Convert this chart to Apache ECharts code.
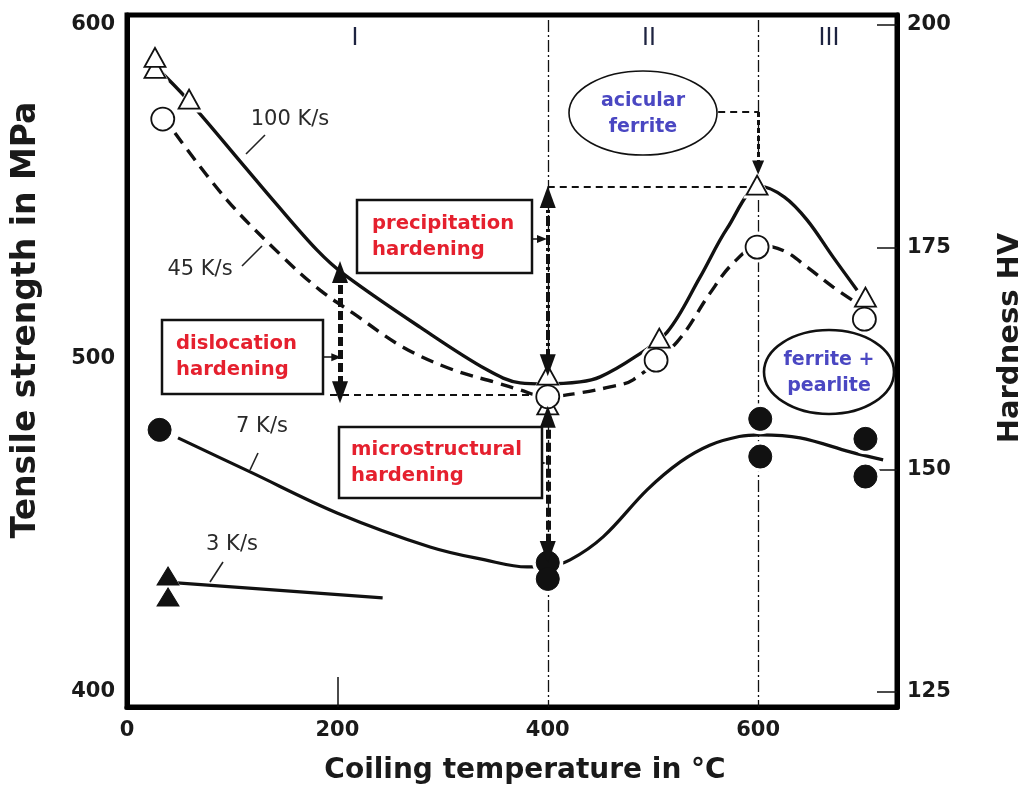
<!DOCTYPE html>
<html>
<head>
<meta charset="utf-8">
<script src="https://cdn.jsdelivr.net/npm/echarts@6/dist/echarts.min.js"></script>
<style>
  html, body { margin: 0; padding: 0; background: #fff; }
  #chart { width: 1024px; height: 796px; }
</style>
</head>
<body>
<div id="chart"></div>
<script>
// ---- measured points: [coiling temperature °C, tensile strength MPa] ----
const tri100 = [[26.6, 587.0], [26.6, 590.3], [59, 577.8], [400, 486.1], [400, 495.0], [506, 506.1], [599, 552.0], [702, 518.4]];
const circ45 = [[34, 571.8], [400, 488.5], [503, 499.5], [599, 533.4], [701, 511.8]];
const dot7 = [[31, 478.6], [400, 438.8], [400, 433.9], [602, 481.9], [602, 470.6], [702, 475.9], [702, 464.6]];
const tri3 = [[39, 434.8], [39, 428.5]];

// ---- hand-fitted trend curves ----
const fit100 = [[26.6, 587.7], [58, 577.5], [112.2, 557.4], [138.8, 547.5], [180.7, 532.5], [207.3, 525.0],
  [278.6, 509.4], [342.3, 496.6], [373.7, 492.7], [397.5, 492.4], [430.7, 493.0], [449.8, 494.5],
  [481.1, 500.1], [513.5, 507.9], [544.8, 524.4], [570.5, 539.0], [601.9, 551.6],
  [625.0, 548.4], [646.6, 541.5], [671.3, 530.4], [694.1, 520.5]];
const fit45 = [[45.6, 567.6], [95.1, 547.5], [148.3, 530.4], [183.5, 520.5], [214.9, 513.6], [262.4, 503.4],
  [310.0, 496.6], [351.8, 492.7], [373.7, 490.6], [397.5, 488.5], [430.7, 489.7], [459.3, 491.5],
  [481.1, 493.6], [523.0, 505.0], [554.3, 519.6], [576.2, 528.6], [601.9, 534.0],
  [625.0, 532.2], [646.6, 527.4], [671.3, 521.4], [689.4, 517.5]];
const fit7 = [[48.5, 476.2], [117.0, 466.0], [199.7, 453.7], [288.1, 443.5], [340.4, 439.6], [380.3, 437.5],
  [400.3, 437.7], [421.2, 439.6], [452.6, 446.5], [494.4, 460.6], [526.0, 469.0], [554.0, 474.0],
  [582.0, 476.6], [602.0, 477.1], [639.9, 476.2], [687.4, 472.0], [718.8, 469.6]];
const fit3 = [[47.5, 432.7], [243.0, 428.2]];

// ---- axes ----
const xTicks = [0, 200, 400, 600];
const yTicks = [400, 500, 600];
const hvTicks = [125, 150, 175, 200];
const xRange = [0, 732];
const yRange = [395.5, 603];
// hardness scale shares the frame: 125 HV at 400 MPa, 75 HV per 200 MPa
const toHV = v => 125 + (v - 400) * 0.375;

// ---- hardening contributions / guide lines ----
const dislocation = [[202.5, 525.9], [202.5, 489.9]];
const precipitation = [[400, 548.4], [400, 498.0]];
const microstructural = [[400, 482.5], [400, 442.0]];
const regionBounds = [400, 600];
const baseLevel = [[193, 489.0], [400, 489.0]];
const peakLevel = [[400, 551.4], [600, 551.4]];

const FONT = 'DejaVu Sans';
const INK = '#111';

function seg(a, b) { return [{ coord: a }, { coord: b }]; }

function guide(name, lines, lineStyle, symbol, symbolSize, z) {
  return {
    name, type: 'line', data: [], silent: true, z: z,
    markLine: {
      silent: true, animation: false, z: z,
      symbol: symbol || ['none', 'none'],
      symbolSize: symbolSize || 10,
      label: { show: false },
      emphasis: { disabled: true },
      lineStyle: Object.assign({ color: INK, opacity: 1 }, lineStyle),
      itemStyle: { color: INK, opacity: 1 },
      data: lines
    }
  };
}

const chart = echarts.init(document.getElementById('chart'), null, { renderer: 'canvas' });

const openStyle = { color: '#fff', borderColor: INK, borderWidth: 1.8, opacity: 1 };
const fillStyle = { color: INK, borderColor: INK, borderWidth: 1, opacity: 1 };
const haloStyle = { color: '#fff', opacity: 1 };

const option = {
  animation: false,
  backgroundColor: '#fff',
  textStyle: { fontFamily: FONT },
  grid: {
    left: 127, right: 127, top: 15, bottom: 89,
    show: true, borderColor: '#000', borderWidth: 5,
    outerBoundsMode: 'none'
  },
  xAxis: {
    type: 'value', min: xRange[0], max: xRange[1],
    axisLine: { show: true, lineStyle: { color: '#000', width: 5 } },
    axisTick: { show: true, inside: true, length: 30, customValues: [200], lineStyle: { color: INK, width: 1.5 } },
    axisLabel: { customValues: xTicks, fontFamily: FONT, fontSize: 21, fontWeight: 'bold', color: '#1a1a1a', margin: 13 },
    splitLine: { show: false },
    name: 'Coiling temperature in °C', nameLocation: 'middle', nameGap: 50,
    nameTextStyle: { fontFamily: FONT, fontSize: 28, fontWeight: 'bold', color: '#1a1a1a', padding: [0, 0, 0, 26] }
  },
  yAxis: [{
    type: 'value', min: yRange[0], max: yRange[1], position: 'left',
    axisLine: { show: true, lineStyle: { color: '#000', width: 5 } },
    axisTick: { show: false },
    axisLabel: { customValues: yTicks, fontFamily: FONT, fontSize: 21, fontWeight: 'bold', color: '#1a1a1a', margin: 12 },
    splitLine: { show: false },
    name: 'Tensile strength in MPa', nameLocation: 'middle', nameGap: 84,
    nameTextStyle: { fontFamily: FONT, fontSize: 33, fontWeight: 'bold', color: '#1a1a1a', padding: [0, 0, 0, 82] }
  }, {
    type: 'value', min: toHV(yRange[0]), max: toHV(yRange[1]), position: 'right',
    axisLine: { show: true, lineStyle: { color: '#000', width: 5 } },
    axisTick: { show: true, inside: true, length: 20, customValues: hvTicks, lineStyle: { color: INK, width: 1.5 } },
    axisLabel: { customValues: hvTicks, fontFamily: FONT, fontSize: 21, fontWeight: 'bold', color: '#1a1a1a', margin: 10 },
    splitLine: { show: false },
    name: 'Hardness HV', nameLocation: 'middle', nameGap: 99,
    nameTextStyle: { fontFamily: FONT, fontSize: 29, fontWeight: 'bold', color: '#1a1a1a', padding: [0, 0, 0, 46] }
  }],
  series: [
    // region boundaries (dash-dot)
    guide('boundaries', regionBounds.map(x => seg([x, 601.5], [x, yRange[0]])), { width: 1.3, type: [12, 3, 2, 3] }, null, null, 1),
    // reference levels (dashed)
    guide('levels', [seg(baseLevel[0], baseLevel[1]), seg(peakLevel[0], peakLevel[1]), seg([562, 573.9], [600, 573.9])],
      { width: 2.2, type: [7, 5] }, null, null, 1),
    guide('acicular pointer', [seg([600, 573.9], [600, 557.3])], { width: 3, type: [5, 3] }, ['none', 'triangle'], [12, 14], 5),
    // trend curves
    { name: '100 K/s', type: 'line', data: fit100, smooth: 0.35, showSymbol: false, silent: true, z: 2,
      lineStyle: { color: INK, width: 3.4 } },
    { name: '45 K/s', type: 'line', data: fit45, smooth: 0.35, showSymbol: false, silent: true, z: 2,
      lineStyle: { color: INK, width: 3.4, type: [13, 8] } },
    { name: '7 K/s', type: 'line', data: fit7, smooth: 0.35, showSymbol: false, silent: true, z: 2,
      lineStyle: { color: INK, width: 3.2 } },
    { name: '3 K/s', type: 'line', data: fit3, showSymbol: false, silent: true, z: 2,
      lineStyle: { color: INK, width: 3.2 } },
    // hardening arrows
    guide('dislocation', [seg(dislocation[0], dislocation[1])], { width: 5, type: [9, 4] }, ['triangle', 'triangle'], [16, 22], 5),
    guide('microstructural', [seg(microstructural[0], microstructural[1])], { width: 5, type: [9, 4] }, ['triangle', 'triangle'], [16, 22], 5),
    guide('precipitation', [seg(precipitation[0], precipitation[1])], { width: 4, type: [10, 3, 3, 3] }, ['triangle', 'triangle'], [16, 22], 5),
    guide('pointers', [seg([176.9, 500.4], [199.0, 500.4]), seg([371.8, 535.8], [394.5, 535.8]), seg([376.5, 468.7], [393.5, 468.7])],
      { width: 1.5, type: 'solid' }, ['none', 'triangle'], [8, 10], 5),
    // white halos that open small gaps in the lines around each marker
    { name: 'halo-tri', type: 'scatter', data: tri100.concat(tri3), symbol: 'triangle', symbolSize: [28, 27], silent: true, z: 3,
      itemStyle: haloStyle },
    { name: 'halo-circ', type: 'scatter', data: circ45.concat(dot7), symbol: 'circle', symbolSize: 31, silent: true, z: 3,
      itemStyle: haloStyle },
    // markers
    { name: '100 K/s pts', type: 'scatter', data: tri100, symbol: 'triangle', symbolSize: [21, 19], z: 4, itemStyle: openStyle },
    { name: '45 K/s pts', type: 'scatter', data: circ45, symbol: 'circle', symbolSize: 23, z: 4, itemStyle: openStyle },
    { name: '7 K/s pts', type: 'scatter', data: dot7, symbol: 'circle', symbolSize: 23, z: 4, itemStyle: fillStyle },
    { name: '3 K/s pts', type: 'scatter', data: tri3, symbol: 'triangle', symbolSize: [22, 18], z: 4, itemStyle: fillStyle }
  ],
  graphic: []
};

chart.setOption(option);

// ---- annotation layer: boxes, ellipses, series labels, region numerals ----
const RED = '#e5202e';
const BLUE = '#4a47c2';
const boxText = { fontFamily: FONT, fontSize: 19.6, fontWeight: 'bold', lineHeight: 26 };

function box(x, y, w, h, lines, tx, ty, color) {
  return [
    { type: 'rect', z: 20, shape: { x, y, width: w, height: h }, style: { fill: '#fff', stroke: INK, lineWidth: 2.5 } },
    { type: 'text', z: 21, x: tx, y: ty, style: Object.assign({ text: lines.join('\n'), fill: color, align: 'left', verticalAlign: 'middle' }, boxText) }
  ];
}
function oval(cx, cy, rx, ry, lw, lines, color) {
  return [
    { type: 'ellipse', z: 20, shape: { cx, cy, rx, ry }, style: { fill: '#fff', stroke: INK, lineWidth: lw } },
    { type: 'text', z: 21, x: cx, y: cy + 1, style: Object.assign({ text: lines.join('\n'), fill: color, align: 'center', verticalAlign: 'middle' }, boxText, { fontSize: 19 }) }
  ];
}
function tag(text, x, y) {
  return { type: 'text', z: 21, x, y, style: { text, fill: '#2a2a2a', fontFamily: FONT, fontSize: 21, align: 'center', verticalAlign: 'middle' } };
}
function leader(x1, y1, x2, y2) {
  return { type: 'line', z: 21, shape: { x1, y1, x2, y2 }, style: { stroke: '#222', lineWidth: 1.6 } };
}
function numeral(text, x) {
  return { type: 'text', z: 21, x, y: 38, style: { text, fill: '#1d2340', fontFamily: 'Liberation Sans', fontSize: 25, align: 'center', verticalAlign: 'middle' } };
}

const graphics = [].concat(
  box(162, 320, 161, 74, ['dislocation', 'hardening'], 176, 357, RED),
  box(357, 200, 175, 73, ['precipitation', 'hardening'], 372, 237, RED),
  box(339, 427, 203, 71, ['microstructural', 'hardening'], 351, 463, RED),
  oval(643, 113, 74, 42, 1.6, ['acicular', 'ferrite'], BLUE),
  oval(829, 372, 65, 42, 2.6, ['ferrite +', 'pearlite'], BLUE),
  [
    tag('100 K/s', 290, 120), leader(265, 135, 246, 154),
    tag('45 K/s', 200, 270), leader(242, 266, 262, 246),
    tag('7 K/s', 262, 427), leader(258, 453, 250, 470),
    tag('3 K/s', 232, 545), leader(223, 562, 210, 582),
    numeral('I', 355), numeral('II', 649), numeral('III', 829)
  ]
);
chart.setOption({ graphic: graphics });
</script>
</body>
</html>
